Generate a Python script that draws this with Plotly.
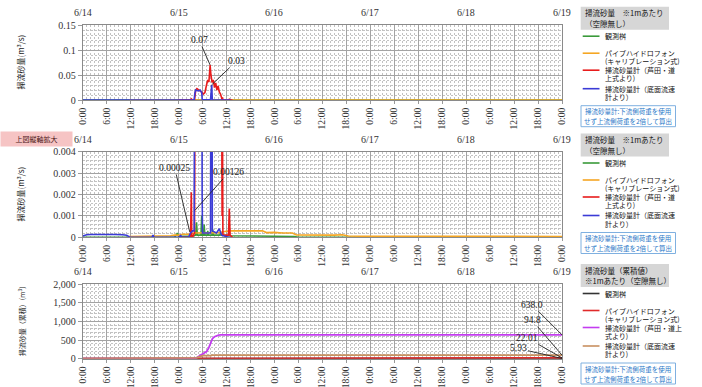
import pandas as pd
import plotly.graph_objects as go

W, H = 702, 387
START = pd.Timestamp("2021-06-14 00:00")
END = pd.Timestamp("2021-06-19 00:00")

DATE_LABELS = ["6/14", "6/15", "6/16", "6/17", "6/18", "6/19"]
TIME_LABELS = ["0:00", "6:00", "12:00", "18:00"] * 5 + ["0:00"]

# ---- instantaneous bedload (m3/s); time = hours after 6/14 0:00 ----
GREEN_T = [0, 23.0, 23.5, 23.7, 24.0, 27.0, 28.3, 28.5, 28.7, 29.6, 29.8, 30.0, 30.3, 30.4, 30.6,
           31.2, 31.3, 31.5, 32.4, 32.5, 32.7, 34.3, 34.5, 34.7, 36.5, 40, 45, 50, 53, 54, 120]
GREEN_V = [0, 0, 0.00012, 0.0002, 0.00005, 0.00005, 0.0001, 0.0007, 0.0001, 0.0001, 0.001, 0.0001,
           0.0001, 0.0006, 0.0001, 0.0001, 0.0003, 0.0001, 0.0001, 0.0004, 0.0001, 0.0001, 0.0002,
           0.0001, 0.00007, 0.00006, 0.00005, 0.00005, 0.00004, 0, 0]

ORANGE_T = [11.6, 14, 16, 18, 20, 22, 23, 24, 25, 26, 27, 28, 30, 32, 34, 36, 37, 40, 43, 45, 46,
            48, 50, 52.5, 53.5, 56, 60, 63, 65, 66.5, 70, 80, 90, 100, 110, 120]
ORANGE_V = [0.00004, 0.00005, 0.00004, 0.00006, 0.00005, 0.00007, 0.0001, 0.0001, 0.00014, 0.00013,
            0.00015, 0.0002, 0.0002, 0.0002, 0.00022, 0.00028, 0.0003, 0.0003, 0.00029, 0.0003,
            0.00022, 0.00023, 0.0002, 0.0002, 0.00011, 0.0001, 0.00009, 0.0001, 0.00012, 0.00006,
            0.00005, 0.00005, 0.00004, 0.00005, 0.00004, 0.00004]

RED_T = [24.0, 27.0, 27.2, 27.3, 27.5, 28.0, 28.3, 28.6, 29.0, 29.4, 29.8, 30.2, 30.6, 31.0, 31.3,
         31.6, 31.9, 32.1, 32.4, 32.7, 33.0, 33.3, 33.6, 33.9, 34.2, 34.5, 34.8, 34.9, 35.0, 35.1,
         36.5, 36.7, 36.9, 37.5]
RED_V = [0, 0, 0.0021, 0.0001, 0, 0.0002, 0.02, 0.023, 0.021, 0.018, 0.016, 0.012, 0.015, 0.03, 0.04,
         0.036, 0.07, 0.05, 0.035, 0.04, 0.025, 0.034, 0.02, 0.028, 0.016, 0.012, 0.006, 0.001, 0.005,
         0.0001, 0.0001, 0.00135, 0.0001, 0]

BLUE_T = [0, 1, 2, 4, 6, 8, 10, 11, 11.6, 12, 17.3, 17.6, 17.9, 24.2, 24.5, 24.8, 26.5, 27.0, 27.5,
          27.9, 28.1, 28.3, 28.6, 29.0, 29.4, 29.8, 29.9, 30.0, 32.0, 32.2, 32.3, 32.45, 33.5, 34.2,
          34.5, 34.8, 36.5, 37]
BLUE_V = [0.00006, 0.00012, 0.00013, 0.00014, 0.00012, 0.00013, 0.00012, 0.0001, 0.00003, 0, 0,
          0.0001, 0, 0, 0.0001, 0, 0, 0.0002, 0.0003, 0.0003, 0.015, 0.02, 0.019, 0.018, 0.02, 0.015,
          0.002, 0.0002, 0.0002, 0.03, 0.03, 0.0003, 0.0002, 0.0004, 0.0002, 0.0001, 0, 0]

# ---- cumulative bedload (m3) ----
CUM_BLACK_T = [0, 23, 28, 31, 34, 36, 53, 120]
CUM_BLACK_V = [0, 0, 0.3, 1.8, 3.0, 3.5, 5.5, 5.93]
CUM_RED_T = [0, 12, 24, 28, 36, 45, 52.6, 66, 120]
CUM_RED_V = [0, 0.3, 1.5, 2.5, 6.5, 12, 15.5, 18, 22.01]
CUM_MAG_T = [0, 28.0, 28.5, 29, 29.5, 30, 30.5, 31, 31.5, 32, 32.5, 33, 33.5, 34, 34.5, 35, 120]
CUM_MAG_V = [0, 0, 25, 60, 95, 125, 150, 190, 280, 400, 540, 590, 615, 630, 636, 638.0, 638.0]
CUM_TAN_T = [0, 28.0, 28.5, 29, 29.5, 30, 32.1, 32.4, 120]
CUM_TAN_V = [0, 0, 20, 42, 62, 80, 82, 94.8, 94.8]

NAMES_RATE = ["観測桝", "パイプハイドロフォン（キャリブレーション式）",
              "掃流砂量計（芦田・道上式より）", "掃流砂量計（底面流速計より）"]
LEGEND_RATE = [["観測桝"], ["パイプハイドロフォン", "(キャリブレーション式)"],
               ["掃流砂量計（芦田・道", "上式より)"], ["掃流砂量計（底面流速", "計より）"]]
LEGEND_CUM = [["観測桝"], ["パイプハイドロフォン", "(キャリブレーション式)"],
              ["掃流砂量計（芦田・道上", "式より)"], ["掃流砂量計（底面流速", "計より)"]]
TITLE_RATE = ["掃流砂量　※1mあたり", "（空隙無し）"]
TITLE_CUM = ["掃流砂量（累積値）", "※1mあたり（空隙無し）"]
NOTE = ["掃流砂量計:下流側荷重を使用", "せず上流側荷重を2倍して算出"]
YTITLE_RATE = "掃流砂量(m<sup>3</sup>/s)"
YTITLE_CUM = "掃流砂量（累積）(m<sup>3</sup>)"
ZOOM_NOTE = "上図縦軸拡大"

COL_RATE = ["#3a9a3a", "#f5a623", "#e81c1c", "#3b3bd6"]
COL_CUM = ["#333333", "#e02a2a", "#c43cf0", "#c89060"]

JP = "Noto Sans CJK JP"
SERIF = "Liberation Serif"


def tt(hours):
    return [(START + pd.Timedelta(hours=h)).strftime("%Y-%m-%d %H:%M:%S") for h in hours]


def px_x(p):
    return p / W


def px_y(p):
    return 1 - p / H


X_DOM = [px_x(82.7), px_x(562)]
PANELS = [(25, 100), (151.7, 237.3), (284, 358.7)]

fig = go.Figure()

rate_series = [(GREEN_T, GREEN_V), (ORANGE_T, ORANGE_V), (RED_T, RED_V), (BLUE_T, BLUE_V)]
for k in (1, 2):
    sfx = "" if k == 1 else str(k)
    for (t, v), name, col in zip(rate_series, NAMES_RATE, COL_RATE):
        fig.add_trace(go.Scatter(x=tt(t), y=v, mode="lines", name=name, showlegend=False,
                                 line=dict(color=col, width=1.6), xaxis="x" + sfx, yaxis="y" + sfx))

cum_series = [(CUM_BLACK_T, CUM_BLACK_V), (CUM_RED_T, CUM_RED_V), (CUM_MAG_T, CUM_MAG_V),
              (CUM_TAN_T, CUM_TAN_V)]
for (t, v), name, col in zip(cum_series, NAMES_RATE, COL_CUM):
    fig.add_trace(go.Scatter(x=tt(t), y=v, mode="lines", name=name, showlegend=False,
                             line=dict(color=col, width=1.8), xaxis="x3", yaxis="y3"))

xrange = [START.strftime("%Y-%m-%d %H:%M:%S"), END.strftime("%Y-%m-%d %H:%M:%S")]
time_ticks = tt([6 * i for i in range(len(TIME_LABELS))])
day_ticks = tt([24 * i for i in range(len(DATE_LABELS))])

layout = dict(width=W, height=H, margin=dict(l=0, r=0, t=0, b=0, pad=0), autosize=False,
              paper_bgcolor="white", plot_bgcolor="white", showlegend=False)

y_specs = [
    dict(range=[0, 0.15], dtick=0.05, minor=0.01, fmt=None),
    dict(range=[0, 0.004], dtick=0.001, minor=0.0002, fmt=None),
    dict(range=[0, 2000], dtick=500, minor=100, fmt=",d"),
]

GRID_MAJOR = "#a3a3a3"
GRID_MINOR = "#c2c2c2"

for i, ((top, bot), ys) in enumerate(zip(PANELS, y_specs)):
    n = i + 1
    sfx = "" if n == 1 else str(n)
    layout["xaxis" + sfx] = dict(
        domain=X_DOM, anchor="y" + sfx, type="date", range=xrange, automargin=False,
        tickmode="array", tickvals=time_ticks, ticktext=TIME_LABELS, tickangle=-90,
        tickfont=dict(family=SERIF, size=9.5, color="#333"),
        ticks="outside", ticklen=3, tickcolor="#999",
        showgrid=True, gridcolor=GRID_MAJOR, gridwidth=0.8,
        minor=dict(dtick=3600000, tick0=xrange[0], showgrid=True, gridcolor=GRID_MINOR,
                   griddash="2px,2px", gridwidth=0.7),
        showline=True, linecolor="#8a8a8a", linewidth=1, mirror=True, zeroline=False,
    )
    ydict = dict(
        domain=[px_y(bot), px_y(top)], anchor="x" + sfx, range=ys["range"], automargin=False,
        tickmode="linear", tick0=0, dtick=ys["dtick"],
        tickfont=dict(family=SERIF, size=10, color="#333"),
        ticks="outside", ticklen=4, tickcolor="#999",
        showgrid=True, gridcolor=GRID_MAJOR, gridwidth=0.8,
        minor=dict(dtick=ys["minor"], tick0=0, showgrid=True, gridcolor=GRID_MINOR,
                   griddash="2px,2px", gridwidth=0.7),
        showline=True, linecolor="#8a8a8a", linewidth=1, mirror=True, zeroline=False,
    )
    if ys["fmt"]:
        ydict["tickformat"] = ys["fmt"]
    layout["yaxis" + sfx] = ydict

fig.update_layout(**layout)

ann = []
shapes = []


def text(t, x, y, size=7, color="#111", family=JP, xanchor="center", yanchor="middle", **kw):
    d = dict(text=t, x=x, y=y, xref=kw.pop("xref", "paper"), yref=kw.pop("yref", "paper"),
             xanchor=xanchor, yanchor=yanchor, showarrow=False,
             font=dict(family=family, size=size, color=color))
    d.update(kw)
    ann.append(d)


# date labels above each panel (on the panel's own time axis)
for n, (top, bot) in enumerate(PANELS):
    xr = "x" if n == 0 else "x" + str(n + 1)
    for dv, lab in zip(day_ticks, DATE_LABELS):
        text(lab, dv, px_y(top - 12.5), size=10, color="#333", family=SERIF, xref=xr)

# y-axis titles
for (top, bot), txt, cx, fs in zip(PANELS, [YTITLE_RATE, YTITLE_RATE, YTITLE_CUM],
                                   [20, 20, 21], [8, 8, 7]):
    text(txt, px_x(cx), px_y((top + bot) / 2), size=fs, color="#222", textangle=-90)

# pink note
text(ZOOM_NOTE, px_x(36.5), px_y(139.2), size=7, color="#4a1414", bgcolor="#f6c4c4",
     width=69, height=12)

# value labels
LBL_FONT = dict(family=SERIF, size=9.5, color="#222")
value_labels = [
    ("x", "y", 31.9, 0.07, "0.07", -11, -25),
    ("x", "y", 32.25, 0.03, "0.03", 25, -24),
    ("x2", "y2", 26.8, 0.00025, "0.00025", -15, -64),
    ("x2", "y2", 28.1, 0.00126, "0.00126", 34, -38),
    ("x3", "y3", 120, 638.0, "638.0", -30, -30),
    ("x3", "y3", 120, 94.8, "94.8", -30, -35),
    ("x3", "y3", 120, 22.01, "22.01", -35, -20),
    ("x3", "y3", 120, 5.93, "5.93", -44, -10),
]
for xr, yr, h, v, txt, ax, ay in value_labels:
    ann.append(dict(text=txt, x=tt([h])[0], y=v, xref=xr, yref=yr, showarrow=True,
                    arrowhead=0, arrowwidth=0.9, arrowcolor="#222", ax=ax, ay=ay,
                    axref="pixel", ayref="pixel", standoff=0, xanchor="center",
                    yanchor="middle", font=LBL_FONT))


def legend_block(T, title, entries, colors):
    shapes.append(dict(type="rect", xref="paper", yref="paper", x0=px_x(580.7), x1=px_x(669),
                       y0=px_y(T + 17), y1=px_y(T - 6), fillcolor="#d6d6d6", line=dict(width=0),
                       layer="above"))
    for j, line in enumerate(title):
        text(line, px_x(582.5), px_y(T + j * 10.5), size=7.5, xanchor="left")
    offs = [23.5, 40.5, 57.5, 76]
    for off, ent, col in zip(offs, entries, colors):
        shapes.append(dict(type="line", xref="paper", yref="paper", x0=px_x(582.7), x1=px_x(599.5),
                           y0=px_y(T + off), y1=px_y(T + off), line=dict(color=col, width=1.6),
                           layer="above"))
        for j, line in enumerate(ent):
            text(line, px_x(602.5), px_y(T + off + j * 8.2), size=7, xanchor="left")
    shapes.append(dict(type="rect", xref="paper", yref="paper", x0=px_x(581), x1=px_x(675.5),
                       y0=px_y(T + 114), y1=px_y(T + 93), fillcolor="white",
                       line=dict(color="#7fb0e0", width=1), layer="above"))
    for j, line in enumerate(NOTE):
        text(line, px_x(628.2), px_y(T + 98.5 + j * 10), size=6.5, color="#2a78c8")


legend_block(12.7, TITLE_RATE, LEGEND_RATE, COL_RATE)
legend_block(139.5, TITLE_RATE, LEGEND_RATE, COL_RATE)
legend_block(270, TITLE_CUM, LEGEND_CUM, COL_CUM)

fig.update_layout(annotations=ann, shapes=shapes)
fig.write_html("out.html", config={"displayModeBar": False},
               post_script="document.body.style.margin='0px';document.body.style.overflow='hidden';")
